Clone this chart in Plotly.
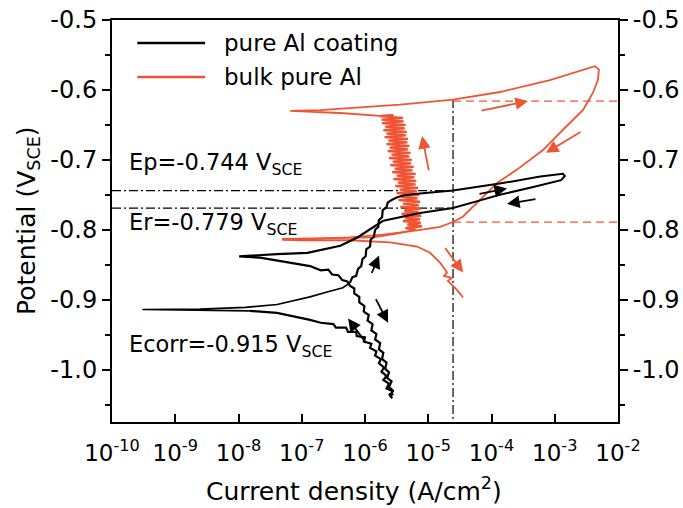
import numpy as np
import plotly.graph_objects as go

FONT = "DejaVu Sans"
BLACK = "#000000"
RED = "#EF5535"

# ---------------- pure Al coating (black): log10 current density (A/cm2), potential (V_SCE)
coat_fc_logi = [-5.60, -5.56, -5.66, -5.62, -5.71, -5.66, -5.74, -5.70, -5.78, -5.75, -5.84, -5.82,
                -5.92, -5.90, -6.02, -6.00, -6.13, -6.14, -6.27, -6.30, -6.46, -6.50, -6.70, -6.87,
                -7.39, -7.82]
coat_fc_E = [-1.037, -1.031, -1.027, -1.020, -1.015, -1.009, -1.003, -0.997, -0.991, -0.985, -0.980,
             -0.974, -0.969, -0.963, -0.960, -0.954, -0.952, -0.946, -0.946, -0.940, -0.940, -0.935,
             -0.933, -0.929, -0.919, -0.916]

coat_tip_logi = [-7.82, -8.61, -9.52, -8.61, -7.89, -7.39, -6.87, -6.60, -6.35, -6.24]
coat_tip_E = [-0.916, -0.9155, -0.914, -0.9135, -0.911, -0.907, -0.896, -0.889, -0.883, -0.876]

coat_an_logi = [-6.24, -6.20, -6.14, -6.11, -6.06, -6.04, -5.99, -5.98, -5.92, -5.91, -5.86, -5.84,
                -5.79, -5.78, -5.73, -5.72, -5.66, -5.64, -5.57, -5.50, -5.40]
coat_an_E = [-0.876, -0.868, -0.866, -0.856, -0.852, -0.842, -0.838, -0.828, -0.824, -0.814, -0.810,
             -0.800, -0.796, -0.786, -0.782, -0.772, -0.768, -0.761, -0.757, -0.754, -0.751]

coat_loop_logi = [-5.40, -5.13, -4.61, -3.87, -3.23, -2.87, -2.84, -2.90, -3.34, -3.87, -4.18,
                  -4.61, -5.13, -5.52, -5.71]
coat_loop_E = [-0.751, -0.748, -0.744, -0.734, -0.724, -0.720, -0.723, -0.729, -0.739, -0.750, -0.758,
               -0.769, -0.776, -0.783, -0.787]

coat_rev_logi = [-5.71, -5.92, -6.12, -6.39, -6.91, -7.39, -7.74, -7.99, -7.66]
coat_rev_E = [-0.787, -0.799, -0.811, -0.823, -0.833, -0.835, -0.837, -0.838, -0.840]

coat_rc_logi = [-7.66, -7.26, -6.87, -6.70, -6.58, -6.52, -6.42, -6.36, -6.28, -6.24, -6.17, -6.17,
                -6.09, -6.09, -6.01, -6.02, -5.94, -5.96, -5.88, -5.90, -5.82, -5.84, -5.76, -5.78,
                -5.71, -5.73, -5.66, -5.68, -5.62, -5.65, -5.58, -5.62, -5.56, -5.60, -5.57, -5.62,
                -5.55]
coat_rc_E = [-0.840, -0.846, -0.852, -0.858, -0.857, -0.864, -0.865, -0.872, -0.874, -0.880, -0.884,
             -0.891, -0.896, -0.904, -0.909, -0.917, -0.922, -0.930, -0.935, -0.944, -0.949, -0.957,
             -0.962, -0.971, -0.976, -0.985, -0.990, -0.999, -1.004, -1.012, -1.017, -1.025, -1.030,
             -1.038, -1.041, -1.035, -1.036]

# ---------------- bulk pure Al (red)
bulk_start_logi = [-7.310, -6.551, -5.872, -5.524, -5.19]
bulk_start_E = [-0.813, -0.812, -0.811, -0.806, -0.800]

bulk_noise_logi = [-5.19, -5.36, -5.10, -5.33, -5.12, -5.40, -5.13, -5.37, -5.11, -5.42, -5.16,
                   -5.38, -5.12, -5.44, -5.15, -5.40, -5.13, -5.47, -5.17, -5.43, -5.14, -5.50,
                   -5.18, -5.45, -5.16, -5.52, -5.20, -5.48, -5.19, -5.55, -5.22, -5.50, -5.20,
                   -5.57, -5.25, -5.53, -5.23, -5.60, -5.27, -5.56, -5.26, -5.62, -5.30, -5.58,
                   -5.28, -5.64, -5.32, -5.61, -5.30, -5.66, -5.33, -5.63, -5.32, -5.69, -5.35,
                   -5.66, -5.34, -5.71, -5.37, -5.68, -5.36, -5.73, -5.39, -5.74, -5.40, -5.77,
                   -5.55]
bulk_noise_E = [-0.800, -0.7975, -0.795, -0.7925, -0.790, -0.7875, -0.785, -0.7825, -0.780, -0.7775,
                -0.775, -0.7725, -0.770, -0.7675, -0.765, -0.7625, -0.760, -0.7575, -0.755, -0.7525,
                -0.750, -0.7475, -0.745, -0.7425, -0.740, -0.7375, -0.735, -0.7325, -0.730, -0.7275,
                -0.725, -0.7225, -0.720, -0.7175, -0.715, -0.7125, -0.710, -0.7075, -0.705, -0.7025,
                -0.700, -0.6975, -0.695, -0.6925, -0.690, -0.6875, -0.685, -0.6825, -0.680, -0.6775,
                -0.675, -0.6725, -0.670, -0.6675, -0.665, -0.6625, -0.660, -0.6575, -0.655, -0.6525,
                -0.650, -0.6475, -0.645, -0.6425, -0.640, -0.6375, -0.636]

bulk_loop_logi = [-5.55, -5.761, -6.393, -7.025, -7.183, -6.709, -6.235, -5.445, -4.608, -3.866, -3.076,
                  -2.555, -2.365, -2.302, -2.318, -2.396, -2.555, -2.870, -3.186, -3.597, -3.913,
                  -4.134, -4.292, -4.450, -4.608, -4.814, -5.177, -5.714, -6.235, -7.025, -7.310]
bulk_loop_E = [-0.636, -0.637, -0.633, -0.631, -0.630, -0.629, -0.626, -0.621, -0.614, -0.603, -0.586,
               -0.571, -0.566, -0.571, -0.586, -0.604, -0.629, -0.657, -0.686, -0.714, -0.733,
               -0.753, -0.767, -0.781, -0.789, -0.796, -0.801, -0.807, -0.811, -0.814, -0.814]

bulk_cath_logi = [-7.310, -7.025, -6.235, -5.603, -5.177, -4.972, -4.814, -4.703, -4.750, -4.624,
                  -4.690, -4.656, -4.545, -4.450]
bulk_cath_E = [-0.814, -0.815, -0.815, -0.818, -0.824, -0.833, -0.847, -0.861, -0.866, -0.869,
               -0.873, -0.876, -0.886, -0.897]

# ---------------- reference lines
ref_i_logi = -4.608          # vertical dash-dot line
ref_top_E = -0.613
Ep_E = -0.744
Er_E = -0.769
bulk_pit_E = -0.616
bulk_rp_E = -0.789

# ---------------- arrows: (tail logi, tail E, head logi, head E)
red_arrows = [(-4.987, -0.717, -5.098, -0.666),
              (-4.182, -0.630, -3.423, -0.616),
              (-2.570, -0.659, -3.139, -0.690),
              (-4.750, -0.824, -4.450, -0.861)]
black_arrows = [(-4.213, -0.749, -3.755, -0.741),
                (-3.281, -0.756, -3.755, -0.763),
                (-5.904, -0.864, -5.777, -0.837),
                (-5.840, -0.897, -5.635, -0.933),
                (-5.967, -0.964, -6.267, -0.927)]

x_tick_exp = [-10, -9, -8, -7, -6, -5, -4, -3, -2]
y_ticks = [-0.5, -0.6, -0.7, -0.8, -0.9, -1.0]
y_minor = [-0.55, -0.65, -0.75, -0.85, -0.95, -1.05]
X_RANGE = [-10, -2]
Y_RANGE = [-1.075, -0.5]

fig = go.Figure()


def add_line(logi, E, color, width, dash=None):
    fig.add_trace(go.Scatter(x=np.power(10.0, np.array(logi)), y=E, mode="lines",
                             line=dict(color=color, width=width, dash=dash),
                             showlegend=False, hoverinfo="skip"))


DD = "9px,3px,2px,3px"
add_line([X_RANGE[0], ref_i_logi], [Ep_E, Ep_E], BLACK, 1.2, DD)
add_line([X_RANGE[0], ref_i_logi], [Er_E, Er_E], BLACK, 1.2, DD)
add_line([ref_i_logi, ref_i_logi], [ref_top_E, Y_RANGE[0]], BLACK, 1.2, DD)
add_line([ref_i_logi, X_RANGE[1]], [bulk_pit_E, bulk_pit_E], RED, 1.2, "8px,5px")
add_line([ref_i_logi, X_RANGE[1]], [bulk_rp_E, bulk_rp_E], RED, 1.2, "8px,5px")

add_line(bulk_start_logi, bulk_start_E, RED, 1.8)
add_line(bulk_noise_logi, bulk_noise_E, RED, 2.3)
add_line(bulk_loop_logi, bulk_loop_E, RED, 1.8)
add_line(bulk_cath_logi, bulk_cath_E, RED, 1.8)

add_line(coat_fc_logi, coat_fc_E, BLACK, 2.2)
add_line(coat_tip_logi, coat_tip_E, BLACK, 1.6)
add_line(coat_an_logi, coat_an_E, BLACK, 2.2)
add_line(coat_loop_logi, coat_loop_E, BLACK, 2.0)
add_line(coat_rev_logi, coat_rev_E, BLACK, 2.2)
add_line(coat_rc_logi, coat_rc_E, BLACK, 2.2)

# invisible trace on the right axis
fig.add_trace(go.Scatter(x=[1e-10], y=[-0.5], yaxis="y2", mode="markers", marker=dict(opacity=0),
                         showlegend=False, hoverinfo="skip"))

ann = []
for (tx, ty, hx, hy) in red_arrows:
    ann.append(dict(x=hx, y=hy, ax=tx, ay=ty, xref="x", yref="y", axref="x", ayref="y", text="",
                    showarrow=True, arrowhead=2, arrowsize=1.4, arrowwidth=1.8, arrowcolor=RED))
for (tx, ty, hx, hy) in black_arrows:
    ann.append(dict(x=hx, y=hy, ax=tx, ay=ty, xref="x", yref="y", axref="x", ayref="y", text="",
                    showarrow=True, arrowhead=2, arrowsize=1.4, arrowwidth=1.8, arrowcolor=BLACK))

tfont = dict(family=FONT, size=22.5, color="black")
labels = [("Ep=-0.744 V<sub>SCE</sub>", 0.642),
          ("Er=-0.779 V<sub>SCE</sub>", 0.493),
          ("Ecorr=-0.915 V<sub>SCE</sub>", 0.190)]
for t, yp in labels:
    ann.append(dict(x=0.030, y=yp, xref="paper", yref="paper", text=t, showarrow=False,
                    xanchor="left", yanchor="middle", font=tfont))

# legend
legend_names = ["pure Al coating", "bulk pure Al"]
legend_colors = [BLACK, RED]
legend_y = [0.943, 0.858]
lfont = dict(family=FONT, size=23, color="black")
shapes = []
for name, c, yp in zip(legend_names, legend_colors, legend_y):
    shapes.append(dict(type="line", xref="paper", yref="paper", x0=0.050, x1=0.184, y0=yp, y1=yp,
                       line=dict(color=c, width=2.5)))
    ann.append(dict(x=0.218, y=yp, xref="paper", yref="paper", text=name, showarrow=False,
                    xanchor="left", yanchor="middle", font=lfont))

# axis titles
ann.append(dict(x=0.479, y=-0.168, xref="paper", yref="paper", text="Current density (A/cm<sup>2</sup>)",
                showarrow=False, xanchor="center", yanchor="middle", font=dict(family=FONT, size=25, color="black")))
ann.append(dict(x=-0.166, y=0.5, xref="paper", yref="paper", text="Potential (V<sub>SCE</sub>)",
                showarrow=False, xanchor="center", yanchor="middle", textangle=-90,
                font=dict(family=FONT, size=25, color="black")))

yax = dict(range=Y_RANGE, tickvals=y_ticks, ticktext=["%.1f" % v for v in y_ticks],
           ticks="outside", ticklen=8, tickwidth=2, tickcolor="black", automargin=False,
           minor=dict(tickvals=y_minor, ticks="outside", ticklen=5, tickwidth=2, tickcolor="black"),
           showline=True, linewidth=2, linecolor="black", showgrid=False, zeroline=False,
           tickfont=dict(family=FONT, size=24, color="black"))

fig.update_layout(
    width=683, height=508,
    margin=dict(l=112, r=65, t=20, b=86, autoexpand=False),
    paper_bgcolor="white", plot_bgcolor="white",
    xaxis=dict(type="log", range=X_RANGE, tickvals=[10.0 ** e for e in x_tick_exp],
               ticktext=["10<sup>%d</sup>" % e for e in x_tick_exp],
               ticks="inside", ticklen=8, tickwidth=2, tickcolor="black", automargin=False,
               showline=True, linewidth=2, linecolor="black", mirror=True,
               showgrid=False, zeroline=False, ticklabelstandoff=9,
               tickfont=dict(family=FONT, size=23, color="black")),
    yaxis=yax,
    yaxis2=dict(yax, overlaying="y", side="right", anchor="x"),
    annotations=ann, shapes=shapes, showlegend=False,
)

fig.write_html("out.html")
